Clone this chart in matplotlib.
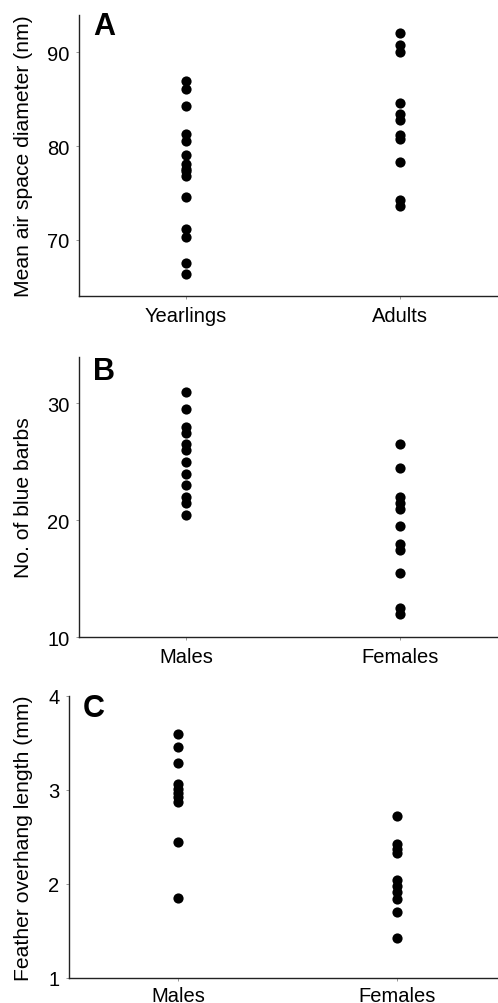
import numpy as np
import matplotlib.pyplot as plt

plt.rcParams['font.family'] = ['Liberation Sans', 'DejaVu Sans']

# panel A: mean air space diameter (nm)
cats_a = ['Yearlings', 'Adults']
yearlings = [87.0, 86.1, 84.3, 81.3, 80.6, 79.1, 78.1, 77.6, 77.3, 76.8,
             74.6, 71.1, 70.25, 67.5, 66.3]
adults = [92.1, 90.8, 90.0, 84.6, 83.4, 82.8, 81.2, 80.8, 78.3, 74.2, 73.6]

# panel B: no. of blue barbs
cats_b = ['Males', 'Females']
barbs_m = [31.0, 29.5, 28.0, 27.5, 26.5, 26.0, 25.0, 24.0, 23.0, 22.0, 21.5, 20.5]
barbs_f = [26.5, 24.5, 22.0, 21.5, 21.0, 19.5, 18.0, 17.5, 15.5, 12.5, 12.0]

# panel C: feather overhang length (mm)
cats_c = ['Males', 'Females']
overhang_m = [3.59, 3.45, 3.28, 3.06, 3.01, 2.97, 2.92, 2.87, 2.44, 1.85]
overhang_f = [2.72, 2.42, 2.37, 2.33, 2.04, 1.98, 1.91, 1.84, 1.70, 1.42]

W, H = 498, 1004
fig = plt.figure(figsize=(W / 100, H / 100), dpi=100)


def px_axes(left, top, bottom, width):
    return fig.add_axes([left / W, 1 - bottom / H, width / W, (bottom - top) / H])


panels = [
    (px_axes(79, 16, 297, 419), cats_a, [yearlings, adults], (64, 94), [70, 80, 90],
     'Mean air space diameter (nm)', 'A', 33, 0.932, 5),
    (px_axes(79, 357.7, 638.3, 419), cats_b, [barbs_m, barbs_f], (10, 34), [10, 20, 30],
     'No. of blue barbs', 'B', 33, 0.9205, 5),
    (px_axes(69.3, 696.7, 979, 428), cats_c, [overhang_m, overhang_f], (1, 4), [1, 2, 3, 4],
     'Feather overhang length (mm)', 'C', 33, 0.927, 3.5),
]

for ax, cats, groups, ylim, yticks, ylabel, letter, lab_px, let_y, xpad in panels:
    for i, vals in enumerate(groups):
        ax.scatter(np.full(len(vals), i + 1), vals, s=54, color='black',
                   linewidths=0, zorder=3, clip_on=False)
    ax.set_xlim(0.5, 2.46)
    ax.set_ylim(*ylim)
    ax.set_xticks([1, 2])
    ax.set_xticklabels(cats)
    ax.set_yticks(yticks)
    ax.spines['top'].set_visible(False)
    ax.spines['right'].set_visible(False)
    for s in ('left', 'bottom'):
        ax.spines[s].set_linewidth(1.0)
        ax.spines[s].set_color('#222222')
    ax.tick_params(axis='both', length=2, width=0.6, color='#888888',
                   labelsize=14.5, pad=5)
    ax.tick_params(axis='x', pad=xpad)
    ax.set_ylabel(ylabel, fontsize=15.2)
    # label position given in figure pixels (right edge of the rotated text)
    left_px = ax.get_position().x0 * W
    width_px = ax.get_position().width * W
    ax.yaxis.set_label_coords((lab_px - left_px) / width_px, 0.5)
    ax.text(0.033 * 419 / width_px, let_y, letter, transform=ax.transAxes, fontsize=22,
            fontweight='bold', va='baseline', ha='left')

fig.savefig('out.png', dpi=100)
